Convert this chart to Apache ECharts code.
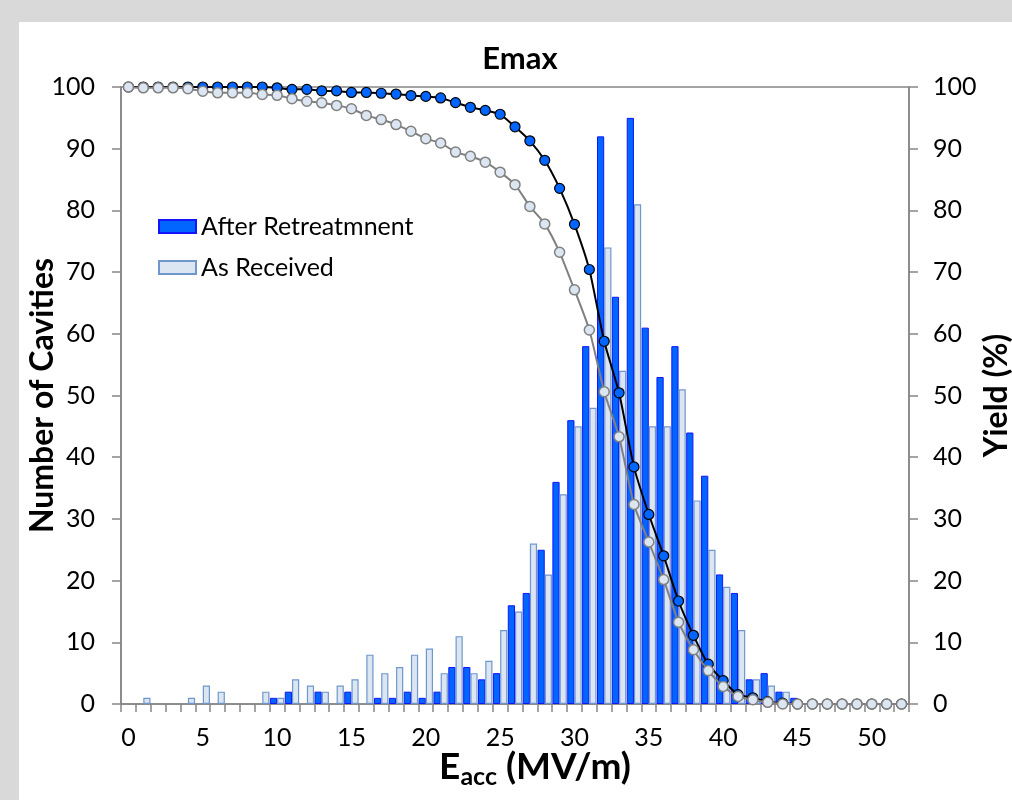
<!DOCTYPE html>
<html>
<head>
<meta charset="utf-8">
<script src="https://cdn.jsdelivr.net/npm/echarts@6/dist/echarts.min.js"></script>
<style>
html,body{margin:0;padding:0;width:1012px;height:800px;background:#d9d9d9;overflow:hidden;}
#panel{position:absolute;left:19px;top:22px;right:0;bottom:0;background:#ffffff;}
#chart{position:absolute;left:0;top:0;width:1012px;height:800px;}
</style>
</head>
<body>
<div id="panel"></div>
<div id="chart"></div>
<script>
// E_acc bins (MV/m)
const categories = ['0','1','2','3','4','5','6','7','8','9','10','11','12','13','14','15','16','17','18','19','20','21','22','23','24','25','26','27','28','29','30','31','32','33','34','35','36','37','38','39','40','41','42','43','44','45','46','47','48','49','50','51','52'];

// Number of cavities per bin
const afterRetreatment = [0,0,0,0,0,0,0,0,0,0,1,2,0,2,0,2,0,1,1,2,1,2,6,6,4,5,16,18,25,36,46,58,92,66,95,61,53,58,44,37,21,18,4,5,2,1,0,0,0,0,0,0,0];
const asReceived       = [0,1,0,0,1,3,2,0,0,2,1,4,3,2,3,4,8,5,6,8,9,5,11,5,7,12,15,26,21,34,45,48,74,54,81,45,45,51,33,25,19,12,4,3,2,0,0,0,0,0,0,0,0];

// Yield (%) curves
const yieldAfter = [100,100,100,100,100,100,100,100,100,100,99.87,99.62,99.62,99.37,99.37,99.12,99.12,98.99,98.86,98.61,98.48,98.23,97.47,96.71,96.21,95.58,93.55,91.28,88.12,83.57,77.75,70.42,58.79,50.44,38.43,30.72,24.02,16.69,11.13,6.45,3.79,1.52,1.01,0.38,0.13,0,0,0,0,0,0,0,0];
const yieldAsReceived = [100,99.86,99.86,99.86,99.73,99.32,99.05,99.05,99.05,98.78,98.65,98.11,97.70,97.43,97.02,96.48,95.40,94.72,93.91,92.83,91.61,90.93,89.45,88.77,87.82,86.20,84.17,80.65,77.81,73.21,67.12,60.62,50.61,43.30,32.34,26.25,20.16,13.26,8.80,5.41,2.84,1.22,0.68,0.27,0,0,0,0,0,0,0,0,0];

const FONT = 'Lato';
const AXIS_GRAY = '#868686';
// empty bins are not drawn
const hideZero = arr => arr.map(v => (v === 0 ? null : v));

const chart = echarts.init(document.getElementById('chart'), null, {renderer:'canvas'});
chart.setOption({
  backgroundColor: 'transparent',
  animation: false,
  textStyle: {fontFamily: FONT},
  title: {
    text: 'Emax',
    left: 515, top: 38, textAlign: 'center',
    textStyle: {fontFamily: FONT, fontSize: 31, fontWeight: 'bold', color: '#000'}
  },
  legend: {
    orient: 'vertical', left: 158, top: 214, padding: 0,
    itemWidth: 37, itemHeight: 13, itemGap: 16,
    icon: 'rect',
    data: ['After Retreatmnent', 'As Received'],
    textStyle: {fontFamily: FONT, fontSize: 25, color: '#000'}
  },
  grid: {left: 121, right: 103, top: 87, bottom: 96, show: true, borderColor: AXIS_GRAY, borderWidth: 1.5,
         containLabel: false, outerBoundsMode: 'none'},
  xAxis: {
    type: 'category', data: categories, boundaryGap: true,
    axisLine: {lineStyle: {color: AXIS_GRAY, width: 1.5}},
    axisTick: {show: true, interval: 0, length: 8, lineStyle: {color: AXIS_GRAY, width: 1.5}},
    axisLabel: {interval: 4, fontFamily: FONT, fontSize: 25, color: '#000', margin: 21},
    splitLine: {show: false},
    name: '{a|E}{b|acc}{a| (MV/m)}',
    nameLocation: 'middle', nameGap: 42, nameMoveOverlap: false,
    nameTextStyle: {
      padding: [0, 0, 0, 40],
      rich: {
        a: {fontFamily: FONT, fontSize: 37, fontWeight: 'bold', color: '#000'},
        b: {fontFamily: FONT, fontSize: 25, fontWeight: 'bold', color: '#000', verticalAlign: 'bottom', padding: [18,0,0,0]}
      }
    }
  },
  yAxis: [
    {
      type: 'value', min: 0, max: 100, interval: 10, position: 'left',
      axisLine: {show: true, lineStyle: {color: AXIS_GRAY, width: 1.5}},
      axisTick: {show: true, length: 9, lineStyle: {color: AXIS_GRAY, width: 1.5}},
      axisLabel: {fontFamily: FONT, fontSize: 25, color: '#000', margin: 26},
      splitLine: {show: false},
      name: 'Number of Cavities', nameLocation: 'middle', nameGap: 62, nameRotate: 90, nameMoveOverlap: false,
      nameTextStyle: {fontFamily: FONT, fontSize: 32, fontWeight: 'bold', color: '#000'}
    },
    {
      type: 'value', min: 0, max: 100, interval: 10, position: 'right',
      axisLine: {show: true, lineStyle: {color: AXIS_GRAY, width: 1.5}},
      axisTick: {show: true, length: 9, lineStyle: {color: AXIS_GRAY, width: 1.5}},
      axisLabel: {fontFamily: FONT, fontSize: 25, color: '#000', margin: 24},
      splitLine: {show: false},
      name: 'Yield (%)', nameLocation: 'middle', nameGap: 72, nameRotate: 90, nameMoveOverlap: false,
      nameTextStyle: {fontFamily: FONT, fontSize: 32, fontWeight: 'bold', color: '#000'}
    }
  ],
  series: [
    {
      name: 'After Retreatmnent', type: 'bar', data: hideZero(afterRetreatment),
      barGap: '0%', barCategoryGap: '3%',
      itemStyle: {color: '#0066ff', borderColor: '#1414ff', borderWidth: 1}
    },
    {
      name: 'As Received', type: 'bar', data: hideZero(asReceived),
      barGap: '0%', barCategoryGap: '3%',
      itemStyle: {color: '#dce6f2', borderColor: '#6f97cc', borderWidth: 1.2}
    },
    {
      name: 'Yield After', type: 'line', yAxisIndex: 1, data: yieldAfter,
      smooth: 0.2, symbol: 'circle', symbolSize: 10, showAllSymbol: true,
      lineStyle: {color: '#000', width: 2},
      itemStyle: {color: '#0066ff', borderColor: '#000', borderWidth: 1.2},
      z: 3
    },
    {
      name: 'Yield As Received', type: 'line', yAxisIndex: 1, data: yieldAsReceived,
      smooth: 0.2, symbol: 'circle', symbolSize: 10, showAllSymbol: true,
      lineStyle: {color: '#808080', width: 2},
      itemStyle: {color: '#dce6f2', borderColor: '#808080', borderWidth: 1.5},
      z: 4
    }
  ]
});
</script>
</body>
</html>
